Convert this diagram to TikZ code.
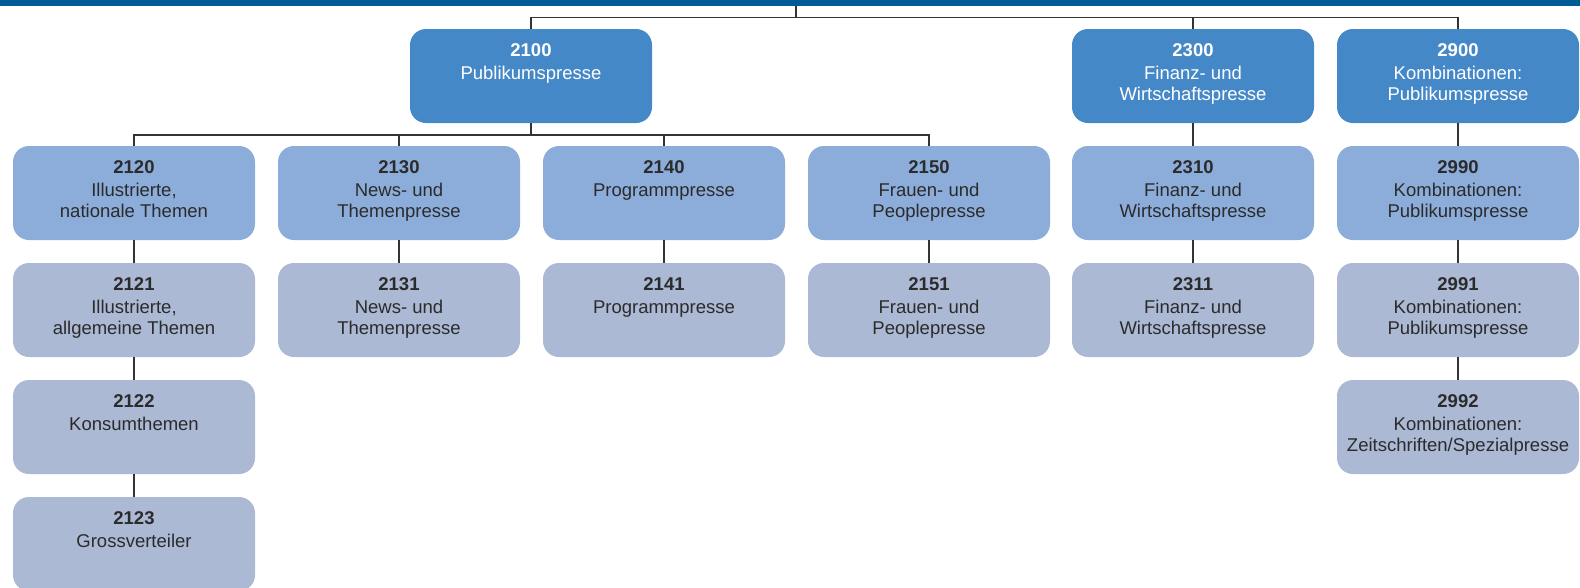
\documentclass[tikz,border=0pt]{standalone}
\usepackage{fontspec}
\setmainfont{Liberation Sans}
\definecolor{barblue}{HTML}{005A96}
\definecolor{topblue}{HTML}{4588C7}
\definecolor{midblue}{HTML}{8CADDA}
\definecolor{lowblue}{HTML}{ABB9D4}
\definecolor{txtdark}{HTML}{2B2B2B}
\definecolor{linec}{HTML}{333333}
\tikzset{
  boxbase/.style={draw=none, rounded corners=16pt, minimum width=242pt, minimum height=94pt, inner sep=0pt},
  topbox/.style={boxbase, fill=topblue},
  midbox/.style={boxbase, fill=midblue},
  lowbox/.style={boxbase, fill=lowblue},
  txt/.style={anchor=north, inner sep=0pt, align=center, font=\fontsize{18.5}{21.5}\selectfont, text=txtdark},
  toptxt/.style={txt, text=white},
  conn/.style={draw=linec, line width=1.2pt},
}
\newcommand{\mybox}[7]{%
  \node[#4] (#1) at (#2,#3) {};
  \node[#5] (#1-t) at ([yshift=-14.3pt]#1.north) {\textbf{#6}\\[1.6pt]#7};
}
\begin{document}
\begin{tikzpicture}[x=1pt,y=-1pt]
\useasboundingbox (0,0) rectangle (1580,587);
\node[fill=barblue, minimum width=1580pt, minimum height=6pt, inner sep=0pt, anchor=north west] (bar) at (0,0) {};
\coordinate (root) at (796,6);
\coordinate (j1) at (796,17.3);
\coordinate (j2) at (531,135);
% top row
\mybox{n2100}{531}{76}{topbox}{toptxt}{2100}{Publikumspresse}
\mybox{n2300}{1193}{76}{topbox}{toptxt}{2300}{Finanz- und\\Wirtschaftspresse}
\mybox{n2900}{1458}{76}{topbox}{toptxt}{2900}{Kombinationen:\\Publikumspresse}
% second row
\mybox{n2120}{134}{193}{midbox}{txt}{2120}{Illustrierte,\\nationale Themen}
\mybox{n2130}{399}{193}{midbox}{txt}{2130}{News- und\\Themenpresse}
\mybox{n2140}{664}{193}{midbox}{txt}{2140}{Programmpresse}
\mybox{n2150}{929}{193}{midbox}{txt}{2150}{Frauen- und\\Peoplepresse}
\mybox{n2310}{1193}{193}{midbox}{txt}{2310}{Finanz- und\\Wirtschaftspresse}
\mybox{n2990}{1458}{193}{midbox}{txt}{2990}{Kombinationen:\\Publikumspresse}
% third row
\mybox{n2121}{134}{310}{lowbox}{txt}{2121}{Illustrierte,\\allgemeine Themen}
\mybox{n2131}{399}{310}{lowbox}{txt}{2131}{News- und\\Themenpresse}
\mybox{n2141}{664}{310}{lowbox}{txt}{2141}{Programmpresse}
\mybox{n2151}{929}{310}{lowbox}{txt}{2151}{Frauen- und\\Peoplepresse}
\mybox{n2311}{1193}{310}{lowbox}{txt}{2311}{Finanz- und\\Wirtschaftspresse}
\mybox{n2991}{1458}{310}{lowbox}{txt}{2991}{Kombinationen:\\Publikumspresse}
% fourth row
\mybox{n2122}{134}{427}{lowbox}{txt}{2122}{Konsumthemen}
\mybox{n2992}{1458}{427}{lowbox}{txt}{2992}{Kombinationen:\\Zeitschriften/Spezialpresse}
% fifth row
\mybox{n2123}{134}{544}{lowbox}{txt}{2123}{Grossverteiler}
% connectors
\draw[conn] (root) -- (j1);
\draw[conn] (n2100.north) |- (j1) -| (n2900.north);
\draw[conn] (n2300.north) -- (n2300.north |- j1);
\draw[conn] (n2100.south) -- (j2);
\draw[conn] (n2120.north) |- (j2) -| (n2150.north);
\draw[conn] (n2130.north) -- (n2130.north |- j2);
\draw[conn] (n2140.north) -- (n2140.north |- j2);
\draw[conn] (n2300.south) -- (n2310.north);
\draw[conn] (n2900.south) -- (n2990.north);
\draw[conn] (n2120.south) -- (n2121.north);
\draw[conn] (n2121.south) -- (n2122.north);
\draw[conn] (n2122.south) -- (n2123.north);
\draw[conn] (n2130.south) -- (n2131.north);
\draw[conn] (n2140.south) -- (n2141.north);
\draw[conn] (n2150.south) -- (n2151.north);
\draw[conn] (n2310.south) -- (n2311.north);
\draw[conn] (n2990.south) -- (n2991.north);
\draw[conn] (n2991.south) -- (n2992.north);
\end{tikzpicture}
\end{document}
